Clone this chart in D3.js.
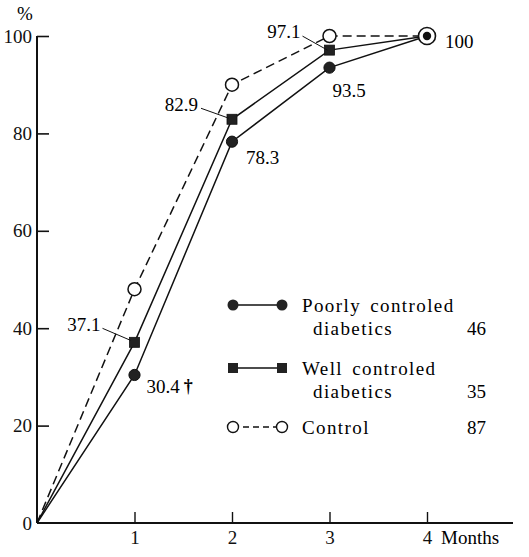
<!DOCTYPE html>
<html>
<head>
<meta charset="utf-8">
<script src="https://cdn.jsdelivr.net/npm/d3@7"></script>
<style>
  body { margin: 0; background: #fff; }
</style>
</head>
<body>
<div id="chart"></div>
<script>
// data
const months = [0, 1, 2, 3, 4];
const poorly = [0, 30.4, 78.3, 93.5, 100];
const well = [0, 37.1, 82.9, 97.1, 100];
const control = [0, 48, 90, 100, 100];
const yTicks = [0, 20, 40, 60, 80, 100];
const xTicks = [1, 2, 3, 4];
const legendNames = [["Poorly controled", "diabetics"], ["Well controled", "diabetics"], ["Control"]];
const legendCounts = [46, 35, 87];

const width = 529, height = 557;
const FONT = "'Liberation Serif', 'Times New Roman', 'DejaVu Serif', serif";

const svg = d3.select("#chart").append("svg")
  .attr("width", width)
  .attr("height", height)
  .attr("font-family", FONT);

const x = d3.scaleLinear().domain([0, 4]).range([37, 427]);
const y = d3.scaleLinear().domain([0, 100]).range([523, 36]);

// axes
const yAxis = svg.append("g")
  .attr("transform", `translate(${x(0)},0)`)
  .call(d3.axisLeft(y).tickValues(yTicks).tickFormat(d3.format("d"))
    .tickSizeInner(-12).tickSizeOuter(0).tickPadding(5));
yAxis.attr("font-family", FONT);
yAxis.select(".domain").remove();
yAxis.selectAll(".tick line").filter(d => d === 0).remove();
yAxis.selectAll(".tick line").attr("stroke", "#111").attr("stroke-width", 1.6);
yAxis.selectAll("text").style("font-size", "19px").attr("fill", "#111");

const xAxis = svg.append("g")
  .attr("transform", `translate(0,${y(0)})`)
  .call(d3.axisBottom(x).tickValues(xTicks).tickFormat(d3.format("d"))
    .tickSizeInner(-11).tickSizeOuter(0).tickPadding(8));
xAxis.attr("font-family", FONT);
xAxis.select(".domain").remove();
xAxis.selectAll(".tick line").attr("stroke", "#111").attr("stroke-width", 1.4);
xAxis.selectAll("text").style("font-size", "19px").attr("fill", "#111");

svg.append("line")
  .attr("x1", x(0)).attr("x2", x(0))
  .attr("y1", y(0)).attr("y2", y(100))
  .attr("stroke", "#111").attr("stroke-width", 2);
svg.append("line")
  .attr("x1", x(0)).attr("x2", x(4) + 86)
  .attr("y1", y(0)).attr("y2", y(0))
  .attr("stroke", "#111").attr("stroke-width", 2);

svg.append("text")
  .attr("x", x(4) + 14).attr("y", y(0) + 8)
  .attr("dy", "0.71em")
  .style("font-size", "19px")
  .text("Months");

svg.append("text")
  .attr("x", 17).attr("y", 20)
  .style("font-size", "19px")
  .text("%");

// lines
const toPts = vals => months.map((m, i) => [x(m), y(vals[i])]);
const line = d3.line();

svg.append("path")
  .attr("d", line(toPts(control)))
  .attr("fill", "none").attr("stroke", "#111")
  .attr("stroke-width", 1.5).attr("stroke-dasharray", "9,5");
svg.append("path")
  .attr("d", line(toPts(well)))
  .attr("fill", "none").attr("stroke", "#111").attr("stroke-width", 1.5);
svg.append("path")
  .attr("d", line(toPts(poorly)))
  .attr("fill", "none").attr("stroke", "#111").attr("stroke-width", 1.5);

// markers (skip origin and month 4 where they coincide)
const mid = [1, 2, 3];
svg.selectAll(".ctrl").data(mid).enter().append("circle")
  .attr("cx", i => x(months[i])).attr("cy", i => y(control[i]))
  .attr("r", 6.5).attr("fill", "#fff").attr("stroke", "#111").attr("stroke-width", 1.5);
svg.selectAll(".well").data(mid).enter().append("rect")
  .attr("x", i => x(months[i]) - 5).attr("y", i => y(well[i]) - 5)
  .attr("width", 10).attr("height", 10)
  .attr("fill", "#222").attr("stroke", "#111").attr("stroke-width", 0.8);
svg.selectAll(".poor").data(mid).enter().append("circle")
  .attr("cx", i => x(months[i])).attr("cy", i => y(poorly[i]))
  .attr("r", 5.6).attr("fill", "#222").attr("stroke", "#111");

// combined marker at 4 months
svg.append("circle")
  .attr("cx", x(4)).attr("cy", y(control[4]))
  .attr("r", 8.5).attr("fill", "#fff").attr("stroke", "#111").attr("stroke-width", 1.6);
svg.append("circle")
  .attr("cx", x(4)).attr("cy", y(poorly[4]))
  .attr("r", 4.2).attr("fill", "#111");

// value labels
const labels = [
  { m: 1, v: poorly[1], text: "30.4", dx: 12, dy: 18, dag: true },
  { m: 2, v: poorly[2], text: "78.3", dx: 14, dy: 22 },
  { m: 3, v: poorly[3], text: "93.5", dx: 3, dy: 29 },
  { m: 4, v: poorly[4], text: "100", dx: 18, dy: 12 },
  { m: 1, v: well[1], text: "37.1", dx: -34, dy: -11, anchor: "end", lead: [-32, -14, -4, -2] },
  { m: 2, v: well[2], text: "82.9", dx: -34, dy: -8, anchor: "end", lead: [-31, -11, -3, -1] },
  { m: 3, v: well[3], text: "97.1", dx: -29, dy: -12, anchor: "end", lead: [-27, -14, -2, 0] }
];

labels.forEach(l => {
  const px = x(l.m), py = y(l.v);
  const t = svg.append("text")
    .attr("x", px + l.dx).attr("y", py + l.dy)
    .attr("text-anchor", l.anchor || "start")
    .style("font-size", "19px")
    .text(l.text);
  if (l.dag) {
    t.append("tspan").attr("dx", 4).attr("dy", -1)
      .style("font-size", "18px").style("font-weight", "bold").text("†");
  }
  if (l.lead) {
    svg.append("line")
      .attr("x1", px + l.lead[0]).attr("y1", py + l.lead[1])
      .attr("x2", px + l.lead[2]).attr("y2", py + l.lead[3])
      .attr("stroke", "#111").attr("stroke-width", 1);
  }
});

// legend
const legend = svg.append("g").attr("transform", "translate(233,305)");
const rowY = [0, 63, 122];

legendNames.forEach((names, i) => {
  const g = legend.append("g").attr("transform", `translate(0,${rowY[i]})`);
  g.append("line")
    .attr("x1", 0).attr("x2", 49).attr("y1", 0).attr("y2", 0)
    .attr("stroke", "#111").attr("stroke-width", 1.5)
    .attr("stroke-dasharray", i === 2 ? "6,4" : null);
  [0, 49].forEach(cx => {
    if (i === 0) {
      g.append("circle").attr("cx", cx).attr("cy", 0).attr("r", 5.5).attr("fill", "#222");
    } else if (i === 1) {
      g.append("rect").attr("x", cx - 5).attr("y", -5).attr("width", 10).attr("height", 10).attr("fill", "#222");
    } else {
      g.append("circle").attr("cx", cx).attr("cy", 0).attr("r", 5.5)
        .attr("fill", "#fff").attr("stroke", "#111").attr("stroke-width", 1.4);
    }
  });
  names.forEach((n, j) => {
    g.append("text")
      .attr("x", j === 0 ? 69 : 80).attr("y", 7 + j * 23)
      .style("font-size", "19px")
      .style("letter-spacing", "1.4px")
      .style("word-spacing", "3px")
      .text(n);
  });
  g.append("text")
    .attr("x", 234).attr("y", 7 + (names.length - 1) * 23)
    .style("font-size", "19px")
    .text(legendCounts[i]);
});
</script>
</body>
</html>
